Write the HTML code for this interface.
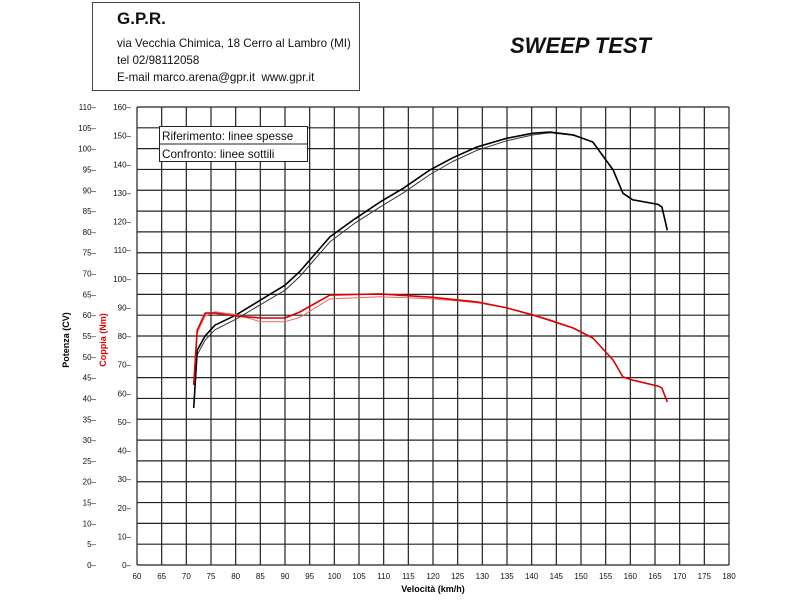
<!DOCTYPE html>
<html><head><meta charset="utf-8"><style>
body{margin:0;background:#fff;width:800px;height:600px;overflow:hidden;font-family:"Liberation Sans",sans-serif}
</style></head><body>
<svg id="c" width="800" height="600" xmlns="http://www.w3.org/2000/svg">
<rect x="92.5" y="2.5" width="267" height="88" fill="#fff" stroke="#444"/>
<text x="117" y="24" font-size="17" font-weight="bold" fill="#111">G.P.R.</text>
<text x="117" y="47" font-size="11.6" fill="#111">via Vecchia Chimica, 18 Cerro al Lambro (MI)</text>
<text x="117" y="64" font-size="11.6" fill="#111">tel 02/98112058</text>
<text x="117" y="81" font-size="11.6" fill="#111" xml:space="preserve">E-mail marco.arena@gpr.it  www.gpr.it</text>
<text x="510" y="53" font-size="22" font-weight="bold" font-style="italic" fill="#111">SWEEP TEST</text>
<g id="grid"></g>
<g id="series"></g>
<g>
<rect x="159.5" y="126.5" width="148" height="35" fill="#fff" stroke="#222"/>
<line x1="159.5" y1="144" x2="307.5" y2="144" stroke="#222"/>
<text x="162" y="140" font-size="11.7" fill="#111">Riferimento: linee spesse</text>
<text x="162" y="158" font-size="11.7" fill="#111">Confronto: linee sottili</text>
</g>
<text transform="translate(69,340) rotate(-90)" font-size="9" font-weight="bold" text-anchor="middle" fill="#000">Potenza (CV)</text>
<text transform="translate(106,340) rotate(-90)" font-size="9" font-weight="bold" text-anchor="middle" fill="#d00">Coppia (Nm)</text>
<text x="433" y="592" font-size="9" font-weight="bold" text-anchor="middle" fill="#000">Velocità (km/h)</text>
</svg>
<script>
const speed = [71.5,72.2,73.8,75.8,80,85,90,93,99.1,104,109.3,114,119.4,124,128.9,135,140.3,143.7,148.4,152.4,156.5,158.5,160.5,165.6,166.4,167.5];
const powerRef = [37.7,51.6,55,57.6,60,63.6,67.2,70.5,78.8,83,87.2,90.5,94.9,97.8,100.4,102.5,103.7,104,103.3,101.6,94.9,89.3,87.7,86.6,86,80.4];
const powerCmp = [37.7,50.5,54,56.5,59,62.5,66,69.3,77.6,82,86,89.4,93.8,96.9,99.6,101.9,103.3,103.8,103.2,101.6,94.9,89.3,87.7,86.6,86,80.4];
const torqueRef = [62.9,82,88,88,87,86.3,86.3,88.4,94.3,94.5,94.7,94.2,93.6,92.8,91.9,89.8,87.3,85.5,82.8,79.3,71.6,65.7,64.6,62.5,61.8,56.9];
const torqueCmp = [62.9,81,87,88.5,87.5,85,85,86.5,93,93.3,93.7,93.4,93,92.4,91.6,89.8,87.5,85.7,82.9,79.3,71.6,65.7,64.6,62.5,61.8,56.9];
const xTicks = [60,65,70,75,80,85,90,95,100,105,110,115,120,125,130,135,140,145,150,155,160,165,170,175,180];
const powerTicks = [0,5,10,15,20,25,30,35,40,45,50,55,60,65,70,75,80,85,90,95,100,105,110];
const torqueTicks = [0,10,20,30,40,50,60,70,80,90,100,110,120,130,140,150,160];

const X0=137,X1=729,Y0=565,Y1=107;
const xs=v=>X0+(v-60)*(X1-X0)/120;
const yp=v=>Y0-v*(Y0-Y1)/110;
const yt=v=>Y0-v*(Y0-Y1)/160;
const NS="http://www.w3.org/2000/svg";
const g=document.getElementById('grid'), s=document.getElementById('series');
function mk(tag,attrs,parent){const e=document.createElementNS(NS,tag);for(const k in attrs)e.setAttribute(k,attrs[k]);parent.appendChild(e);return e;}
xTicks.forEach(v=>{
  const l=mk('line',{x1:xs(v),x2:xs(v),y1:Y1,y2:Y0,stroke:'#222','stroke-width':1.2},g);
  
  
  const t=mk('text',{x:xs(v),y:579,'font-size':8,'text-anchor':'middle',fill:'#111'},g);
  t.textContent=v;
  
  
});
powerTicks.forEach(v=>{
  const l=mk('line',{x1:X0,x2:X1,y1:yp(v),y2:yp(v),stroke:'#222','stroke-width':1.2},g);
  
  
  const t=mk('text',{x:96,y:yp(v)+3,'font-size':8,'text-anchor':'end',fill:'#111'},g);
  t.textContent=v+'–';
  
  
});
torqueTicks.forEach(v=>{
  const t=mk('text',{x:131,y:yt(v)+3,'font-size':8,'text-anchor':'end',fill:'#111'},g);
  t.textContent=v+'–';
  
  
});
function line(vals,yf,color,w,name){
  const d=vals.map((v,i)=>(i?'L':'M')+xs(speed[i]).toFixed(1)+' '+yf(v).toFixed(1)).join(' ');
  const p=mk('path',{d:d,fill:'none',stroke:color,'stroke-width':w,'stroke-linejoin':'round'},s);
  
  
}
line(powerCmp,yp,'#333',1,'power-comparison-line');
line(powerRef,yp,'#000',1.6,'power-reference-line');
line(torqueCmp,yt,'#e66',1,'torque-comparison-line');
line(torqueRef,yt,'#d00',1.6,'torque-reference-line');
</script>
</body></html>
